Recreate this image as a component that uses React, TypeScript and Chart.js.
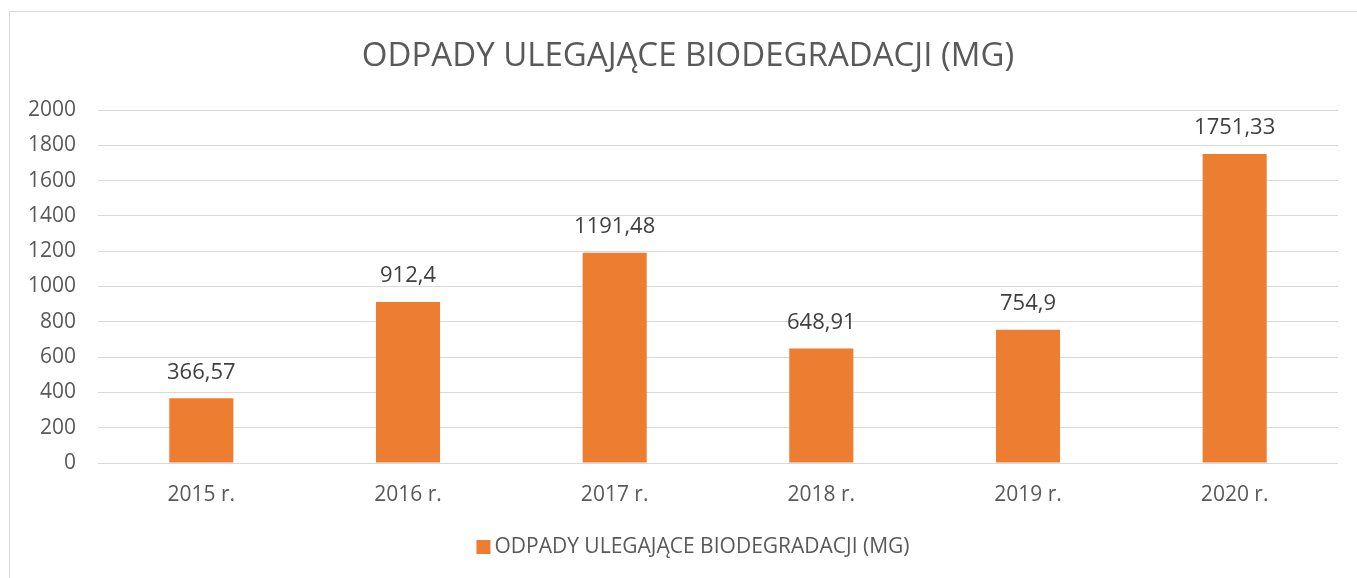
import React, { useEffect, useRef } from "react";
import { Chart, registerables } from "chart.js";

Chart.register(...registerables);

const categories = ["2015 r.", "2016 r.", "2017 r.", "2018 r.", "2019 r.", "2020 r."];
const values = [366.57, 912.4, 1191.48, 648.91, 754.9, 1751.33];
const seriesName = "ODPADY ULEGAJĄCE BIODEGRADACJI (MG)";
const titleText = "ODPADY ULEGAJĄCE BIODEGRADACJI (MG)";
const yMin = 0;
const yMax = 2000;
const yStep = 200;

const FONT = "'Open Sans', 'Noto Sans', sans-serif";
const BAR_COLOR = "#ED7D31";

const fmt = (v: number) => String(v).replace(".", ",");

const dataLabels = {
  id: "dataLabels",
  afterDatasetsDraw(chart: any) {
    const ctx = chart.ctx;
    const meta = chart.getDatasetMeta(0);
    ctx.save();
    ctx.font = `22px ${FONT}`;
    ctx.fillStyle = "#404040";
    ctx.textAlign = "center";
    ctx.textBaseline = "middle";
    meta.data.forEach((bar: any, i: number) => {
      const v = chart.data.datasets[0].data[i];
      ctx.fillText(fmt(v), bar.x, bar.y - 26);
    });
    ctx.restore();
  },
};

const titleAndLegend = {
  id: "titleAndLegend",
  afterDraw(chart: any) {
    const ctx = chart.ctx;
    ctx.save();
    ctx.font = `33px ${FONT}`;
    ctx.fillStyle = "#595959";
    ctx.textAlign = "center";
    ctx.textBaseline = "middle";
    ctx.fillText(titleText, 688, 57);

    // legend
    const label = chart.data.datasets[0].label;
    ctx.font = `21px ${FONT}`;
    const tw = ctx.measureText(label).width;
    const boxW = 14;
    const gap = 4;
    const total = boxW + gap + tw;
    const cx = 693;
    const cy = 547;
    const x0 = cx - total / 2;
    ctx.fillStyle = chart.data.datasets[0].backgroundColor;
    ctx.fillRect(x0, cy - 7, boxW, boxW);
    ctx.fillStyle = "#595959";
    ctx.textAlign = "left";
    ctx.fillText(label, x0 + boxW + gap, cy);
    ctx.restore();
  },
};

export default function App() {
  const ref = useRef<HTMLCanvasElement | null>(null);
  useEffect(() => {
    if (!ref.current) return;
    const chart = new Chart(ref.current, {
      type: "bar",
      data: {
        labels: categories,
        datasets: [
          {
            label: seriesName,
            data: values,
            backgroundColor: BAR_COLOR,
            borderWidth: 0,
            categoryPercentage: 1,
            barPercentage: 0.31,
          },
        ],
      },
      options: {
        animation: false,
        responsive: false,
        maintainAspectRatio: false,
        layout: { padding: { left: 0, right: 19, top: 110, bottom: 51 } },
        plugins: {
          title: { display: false },
          legend: { display: false },
          tooltip: { enabled: false },
        },
        scales: {
          x: {
            grid: { display: false },
            border: { display: false },
            ticks: { color: "#595959", font: { family: FONT, size: 21 }, padding: 11 },
            afterFit: (s: any) => {
              s.height = 64;
            },
          },
          y: {
            min: yMin,
            max: yMax,
            grid: { color: "#d9d9d9", lineWidth: 1, drawTicks: false },
            border: { display: false },
            ticks: {
              stepSize: yStep,
              color: "#595959",
              font: { family: FONT, size: 21 },
              padding: 22,
              callback: (v: any) => String(v),
            },
            afterFit: (s: any) => {
              s.width = 98;
            },
          },
        },
      },
      plugins: [dataLabels, titleAndLegend],
    });
    return () => chart.destroy();
  }, []);

  return (
    <div style={{ position: "fixed", left: 0, top: 0, width: 1357, height: 578, background: "#fff", overflow: "hidden" }}>
      <div
        style={{
          position: "absolute",
          left: 9,
          top: 11,
          width: 1400,
          height: 700,
          border: "1px solid #d9d9d9",
        }}
      />
      <canvas ref={ref} width={1357} height={578} style={{ position: "absolute", left: 0, top: 0 }} />
    </div>
  );
}
